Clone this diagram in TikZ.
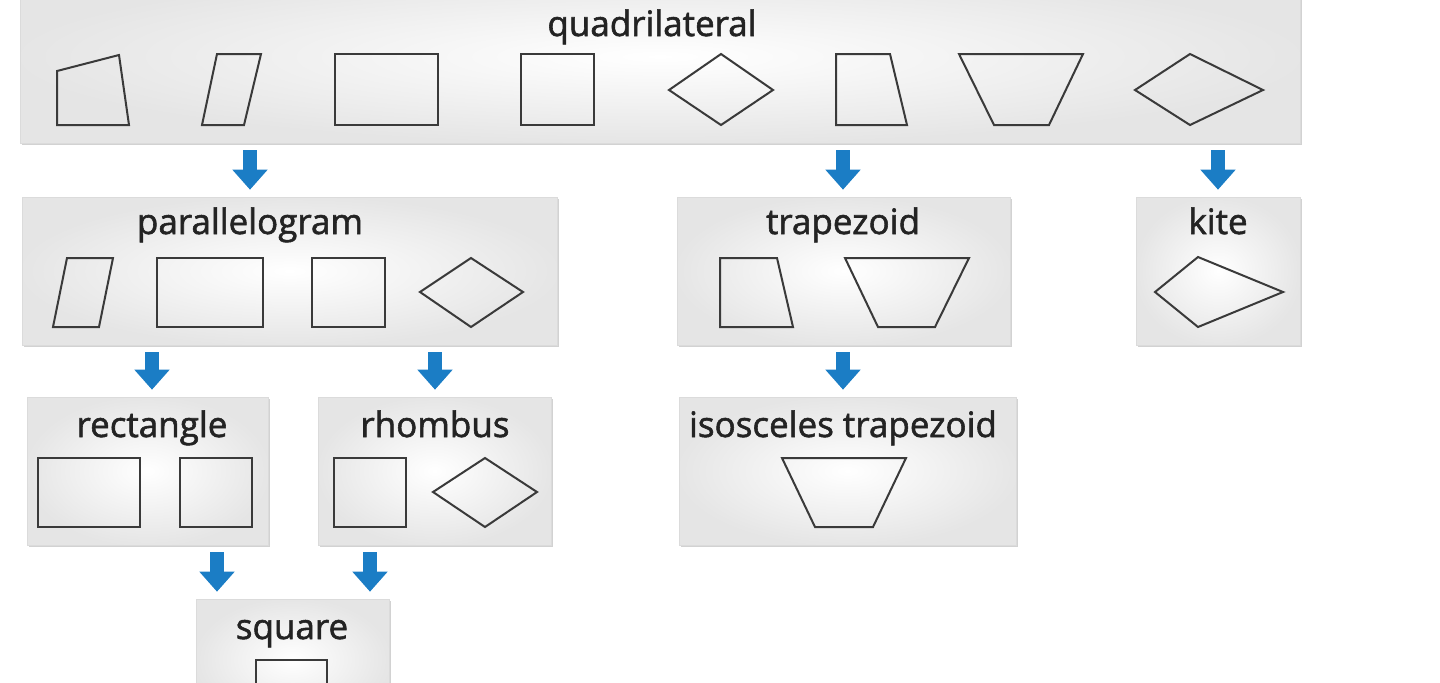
\documentclass[tikz,border=0pt]{standalone}
\usepackage{fontspec}
\setmainfont{Open Sans}
\newfontfamily\labelfont[FakeBold=1.6]{Open Sans}
\usetikzlibrary{arrows.meta,fit,shadows}
\definecolor{flowblue}{HTML}{1B7DC5}
\definecolor{inkgray}{HTML}{3A3A3A}
\definecolor{textgray}{HTML}{232323}

\begin{document}
\begin{tikzpicture}[x=0.5pt, y=-0.5pt,
    panel/.style={inner sep=0pt, draw=gray!28, line width=0.3pt,
      inner color=white, outer color=gray!20,
      drop shadow={shadow xshift=1.2pt, shadow yshift=-1.2pt, fill=gray!70, opacity=0.5}},
    title/.style={anchor=base, text=textgray, font=\labelfont\fontsize{17.5}{20}\selectfont},
    fig/.style={draw=inkgray, line width=1pt},
    flow/.style={-{Triangle[width=17pt,length=10pt]}, line width=7pt, draw=flowblue,
      shorten <=3.5pt, shorten >=3.5pt}]
\useasboundingbox (0,0) rectangle (1440,682);
% boxes
    \node[panel, fit={(20,-30) (1300,143)}] (quad) {};
    \node[panel, fit={(22,197) (557,345)}] (para) {};
    \node[panel, fit={(677,197) (1010,345)}] (trap) {};
    \node[panel, fit={(1136,197) (1300,345)}] (kite) {};
    \node[panel, fit={(27,397) (268,545)}] (rect) {};
    \node[panel, fit={(318,397) (551,545)}] (rhomb) {};
    \node[panel, fit={(679,397) (1016,545)}] (iso) {};
    \node[panel, fit={(196,599) (389,720)}] (sq) {};
% titles
    \node[title] (quadT) at (652,36) {quadrilateral};
    \node[title] (paraT) at (250,234) {parallelogram};
    \node[title] (trapT) at (843,234) {trapezoid};
    \node[title] (kiteT) at (1218,234) {kite};
    \node[title] (rectT) at (152,437) {rectangle};
    \node[title] (rhombT) at (435,437) {rhombus};
    \node[title] (isoT) at (843,437) {isosceles trapezoid};
    \node[title] (sqT) at (292,639) {square};
% quadrilateral row
    \draw[fig] (57,71) -- (119,55) -- (129,125) -- (57,125) -- cycle;
    \draw[fig] (217,54) -- (261,54) -- (244,125) -- (202,125) -- cycle;
    \draw[fig] (335,54) rectangle (438,125);
    \draw[fig] (521,54) rectangle (594,125);
    \draw[fig] (669,90) -- (721,54) -- (773,90) -- (721,125) -- cycle;
    \draw[fig] (836,54) -- (890,54) -- (907,125) -- (836,125) -- cycle;
    \draw[fig] (959,54) -- (1083,54) -- (1049,125) -- (994,125) -- cycle;
    \draw[fig] (1135,90) -- (1190,54) -- (1263,90) -- (1190,125) -- cycle;
% parallelogram, trapezoid, kite
    \draw[fig] (67,258) -- (113,258) -- (99,327) -- (53,327) -- cycle;
    \draw[fig] (157,258) rectangle (263,327);
    \draw[fig] (312,258) rectangle (385,327);
    \draw[fig] (420,292) -- (471,258) -- (523,292) -- (471,327) -- cycle;
    \draw[fig] (720,258) -- (777,258) -- (793,327) -- (720,327) -- cycle;
    \draw[fig] (845,258) -- (969,258) -- (935,327) -- (878,327) -- cycle;
    \draw[fig] (1155,292) -- (1198,257) -- (1283,292) -- (1198,327) -- cycle;
% rectangle, rhombus, isosceles trapezoid, square
    \draw[fig] (38,458) rectangle (140,527);
    \draw[fig] (180,458) rectangle (252,527);
    \draw[fig] (334,458) rectangle (406,527);
    \draw[fig] (433,492) -- (485,458) -- (537,492) -- (485,527) -- cycle;
    \draw[fig] (782,458) -- (906,458) -- (873,527) -- (815,527) -- cycle;
    \draw[fig] (256,660) rectangle (327,730);
% arrows
    \coordinate (toSqA) at (217,0);
    \coordinate (toSqB) at (370,0);
    \draw[flow] (quad.south -| paraT) -- (para.north -| paraT);
    \draw[flow] (quad.south -| trapT) -- (trap.north -| trapT);
    \draw[flow] (quad.south -| kiteT) -- (kite.north -| kiteT);
    \draw[flow] (para.south -| rectT) -- (rect.north -| rectT);
    \draw[flow] (para.south -| rhombT) -- (rhomb.north -| rhombT);
    \draw[flow] (trap.south -| isoT) -- (iso.north -| isoT);
    \draw[flow] (rect.south -| toSqA) -- (sq.north -| toSqA);
    \draw[flow] (rhomb.south -| toSqB) -- (sq.north -| toSqB);
\end{tikzpicture}
\end{document}
